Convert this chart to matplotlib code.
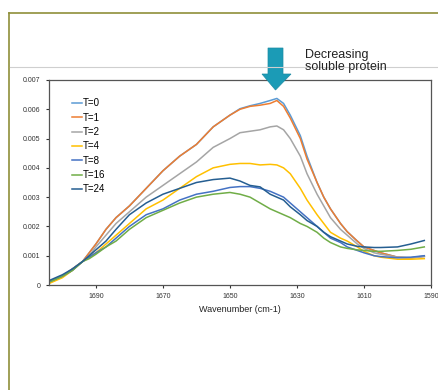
import matplotlib
matplotlib.use("Agg")
import matplotlib.pyplot as plt
from matplotlib.lines import Line2D
from matplotlib.patches import Polygon

plt.rcParams['font.family'] = ['Liberation Sans', 'DejaVu Sans']

wavenumber = [1704, 1700, 1697, 1694, 1692, 1690, 1687, 1684, 1680, 1675, 1670, 1665, 1660, 1655,
              1650, 1647, 1644, 1641, 1638, 1636, 1634, 1632, 1629, 1627, 1624, 1622, 1620, 1617,
              1615, 1612, 1610, 1607, 1605, 1600, 1596, 1592]

labels = ["T=0", "T=1", "T=2", "T=4", "T=8", "T=16", "T=24"]
colors = ["#5b9bd5", "#ed7d31", "#a5a5a5", "#ffc000", "#4472c4", "#70ad47", "#255e91"]

t0 = [0.0001, 0.0003, 0.00055, 0.0008, 0.0011, 0.0014, 0.0019, 0.0023, 0.0027, 0.0033, 0.0039, 0.0044, 0.0048, 0.0054,
      0.0058, 0.00602, 0.00612, 0.0062, 0.0063, 0.00637, 0.0062, 0.0058, 0.0051, 0.0044, 0.0035, 0.0030, 0.0026, 0.0021,
      0.00182, 0.0015, 0.0013, 0.00118, 0.0011, 0.00095, 0.00093, 0.00099]
t1 = [0.0001, 0.0003, 0.00055, 0.0008, 0.0011, 0.0014, 0.0019, 0.0023, 0.0027, 0.0033, 0.0039, 0.0044, 0.0048, 0.0054,
      0.0058, 0.0060, 0.0061, 0.00614, 0.0062, 0.0063, 0.0061, 0.0057, 0.0050, 0.0043, 0.0035, 0.0030, 0.0026, 0.0021,
      0.00182, 0.0015, 0.0013, 0.00118, 0.0011, 0.00095, 0.00092, 0.00098]
t2 = [0.0001, 0.0003, 0.00055, 0.0008, 0.001, 0.0013, 0.0017, 0.0021, 0.0025, 0.0030, 0.0034, 0.0038, 0.0042, 0.0047,
      0.0050, 0.0052, 0.00525, 0.0053, 0.0054, 0.00543, 0.0053, 0.0050, 0.0044, 0.0038, 0.0031, 0.0027, 0.0023, 0.0019,
      0.0017, 0.0014, 0.00125, 0.0011, 0.00105, 0.00095, 0.00093, 0.00097]
t4 = [0.00005, 0.00025, 0.0005, 0.0008, 0.00095, 0.0011, 0.0014, 0.0017, 0.0021, 0.0026, 0.0029, 0.0033, 0.0037, 0.0040,
      0.00412, 0.00415, 0.00415, 0.0041, 0.00412, 0.0041, 0.0040, 0.0038, 0.0033, 0.0029, 0.0024, 0.0021, 0.0018, 0.0016,
      0.0015, 0.0013, 0.00115, 0.001, 0.00095, 0.00088, 0.00088, 0.0009]
t8 = [0.0001, 0.0003, 0.0005, 0.0008, 0.00095, 0.0011, 0.0013, 0.0016, 0.002, 0.0024, 0.0026, 0.0029, 0.0031, 0.0032,
      0.00333, 0.00336, 0.00336, 0.0033, 0.0032, 0.0031, 0.003, 0.0028, 0.0025, 0.0023, 0.002, 0.0018, 0.0016, 0.00145,
      0.0013, 0.00118, 0.0011, 0.001, 0.00097, 0.00093, 0.00095, 0.001]
t16 = [0.0001, 0.0003, 0.0005, 0.0008, 0.0009, 0.00105, 0.0013, 0.0015, 0.0019, 0.0023, 0.00255, 0.0028, 0.0030, 0.0031,
       0.00316, 0.0031, 0.0030, 0.0028, 0.0026, 0.0025, 0.0024, 0.0023, 0.0021, 0.0020, 0.0018, 0.0016, 0.00145, 0.0013,
       0.00125, 0.0012, 0.00118, 0.00115, 0.00115, 0.00118, 0.00122, 0.0013]
t24 = [0.00015, 0.00035, 0.00055, 0.0008, 0.001, 0.0012, 0.0015, 0.0019, 0.0024, 0.0028, 0.0031, 0.0033, 0.0035, 0.0036,
       0.00365, 0.00355, 0.0034, 0.00335, 0.0031, 0.0030, 0.0029, 0.00267, 0.0024, 0.0022, 0.002, 0.0018, 0.00165, 0.0015,
       0.0014, 0.00132, 0.0013, 0.00128, 0.00128, 0.0013, 0.0014, 0.00152]
series = [t0, t1, t2, t4, t8, t16, t24]

xticks = [1690, 1670, 1650, 1630, 1610, 1590]
yticks = [0, 0.001, 0.002, 0.003, 0.004, 0.005, 0.006, 0.007]

W, H = 439, 390
fig = plt.figure(figsize=(W / 100, H / 100), dpi=100)
fig.patch.set_facecolor("white")

def fx(px):
    return px / W

def fy(py):
    return 1 - py / H

# slide border lines
fig.add_artist(Line2D([fx(9.5), fx(9.5)], [fy(13), fy(390)], color="#8f8f3a", lw=1.2, transform=fig.transFigure))
fig.add_artist(Line2D([fx(9.5), 1], [fy(13), fy(13)], color="#8f8f3a", lw=1.2, transform=fig.transFigure))
fig.add_artist(Line2D([fx(10), 1], [fy(67), fy(67)], color="#cfcfcf", lw=0.8, transform=fig.transFigure))

ax = fig.add_axes([fx(49), fy(285), fx(431) - fx(49), fy(80) - fy(285)])
for lab, col, vals in zip(labels, colors, series):
    ax.plot(wavenumber, vals, color=col, lw=1.1, label=lab)

ax.set_xlim(1704, 1590)
ax.set_ylim(0, 0.007)
ax.set_xticks(xticks)
ax.set_xticklabels([str(v) for v in xticks])
ax.set_yticks(yticks)
ax.set_yticklabels(["0"] + [f"{v:.3f}" for v in yticks[1:]])
ax.tick_params(axis="both", labelsize=5, colors="#333333", length=2.5, width=0.8, direction="out")
for s in ax.spines.values():
    s.set_color("#555555")
    s.set_linewidth(0.9)
ax.set_xlabel("Wavenumber (cm-1)", fontsize=6.5, color="#222222", labelpad=3)

ax.legend(loc="upper left", bbox_to_anchor=(0.05, 0.93), frameon=False, fontsize=7,
          handlelength=1.0, handletextpad=0.15, labelspacing=0.45, borderaxespad=0)

# arrow
pts = [(268, 48), (283, 48), (283, 74), (291, 74), (275.5, 90), (262, 74), (268, 74)]
fig.add_artist(Polygon([(fx(x), fy(y)) for x, y in pts], closed=True, facecolor="#1b9bb6",
                       edgecolor="#1b8aa3", lw=0.5, transform=fig.transFigure))
fig.text(fx(305), fy(49), "Decreasing\nsoluble protein", fontsize=9, color="#222222",
         va="top", ha="left", linespacing=1.05)

fig.savefig("out.png", dpi=100)
